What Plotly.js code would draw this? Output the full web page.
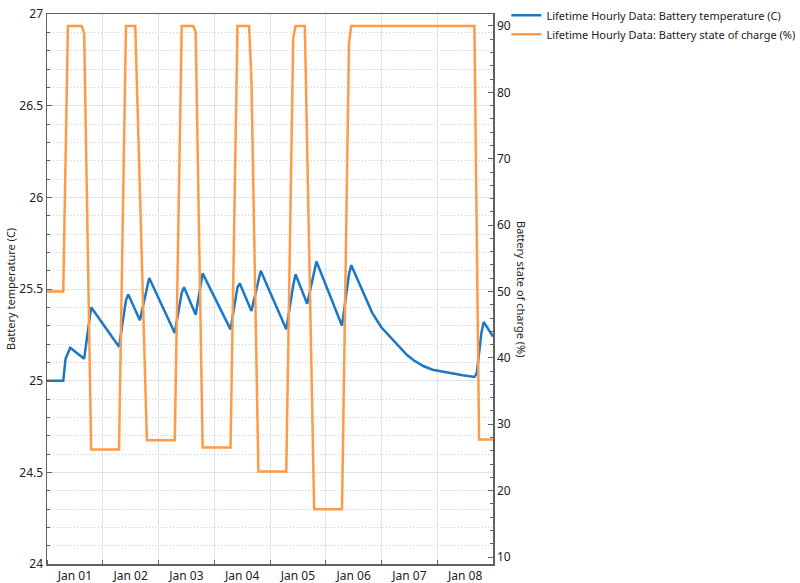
<!DOCTYPE html>
<html>
<head>
<meta charset="utf-8">
<script src="https://cdn.plot.ly/plotly-3.0.1.min.js"></script>
<style>
  html, body { margin: 0; padding: 0; background: #fff; }
  #chart { width: 800px; height: 583px; }
</style>
</head>
<body>
<div id="chart"></div>
<script>
// hours since Jan 01 00:00
const socHours = [0, 7, 9, 15, 16, 19, 31, 34, 38, 43, 55, 58, 63, 64, 67, 79, 82, 87, 88, 91,
                  103, 106, 107, 111, 115, 127, 130, 131, 184, 186, 192];
const socValues = [50, 50, 90, 90, 88.9, 26.2, 26.2, 90, 90, 27.6, 27.6, 90, 90, 89.1, 26.5, 26.5, 90, 90, 82, 22.9,
                   22.9, 88.2, 90, 90, 17.2, 17.2, 87.4, 90, 90, 27.7, 27.7];

const tempHours = [0, 7, 8, 10, 16, 17, 19, 31, 34, 35, 40, 44, 55, 58, 59, 64, 67, 79, 82, 83, 88, 92,
                   103, 106, 107, 112, 116, 127, 130, 131, 133, 137, 140, 144, 148, 151, 155, 158, 162,
                   166, 170, 174, 179, 184, 185, 187, 188, 192];
const tempValues = [25.0, 25.0, 25.12, 25.18, 25.12, 25.22, 25.40, 25.185, 25.44, 25.47, 25.33, 25.56, 25.26, 25.48, 25.51,
                    25.36, 25.585, 25.28, 25.51, 25.53, 25.38, 25.60, 25.28, 25.52, 25.58, 25.42, 25.65, 25.30,
                    25.58, 25.63, 25.57, 25.46, 25.37, 25.29, 25.235, 25.19, 25.14, 25.11, 25.08, 25.06, 25.05,
                    25.04, 25.03, 25.02, 25.04, 25.26, 25.32, 25.24];

const tempName = 'Lifetime Hourly Data: Battery temperature (C)';
const socName = 'Lifetime Hourly Data: Battery state of charge (%)';
const leftTitle = 'Battery temperature (C)';
const rightTitle = 'Battery state of charge (%)';

function pad(n){ return (n < 10 ? '0' : '') + n; }
function hourToDate(h){
    let day = Math.floor(h / 24);
    let hr = h % 24;
    return '2023-01-' + pad(day + 1) + ' ' + pad(hr) + ':00';
}

const font = "'Segoe UI', 'Noto Sans', sans-serif";

let traces = [
    {
        x: tempHours.map(hourToDate), y: tempValues, name: tempName,
        type: 'scatter', mode: 'lines',
        line: {color: '#1a78c8', width: 2.5}
    },
    {
        x: socHours.map(hourToDate), y: socValues, name: socName, yaxis: 'y2',
        type: 'scatter', mode: 'lines',
        line: {color: '#ff9b47', width: 2.5}
    }
];

let layout = {
    width: 800, height: 583,
    margin: {l: 47, r: 307, t: 14, b: 19, autoexpand: false},
    paper_bgcolor: '#fff', plot_bgcolor: '#fff',
    font: {family: font, size: 12, color: '#222'},
    showlegend: true,
    legend: {
        x: 1.03, xanchor: 'left', y: 1.024, yanchor: 'top',
        font: {size: 11, color: '#222'}, itemwidth: 30, tracegroupgap: 0,
        bgcolor: 'rgba(0,0,0,0)'
    },
    xaxis: {
        type: 'date',
        range: [hourToDate(0), '2023-01-09 00:00'],
        dtick: 86400000, tick0: '2023-01-01',
        tickformat: '%b %d', ticklabelmode: 'period',
        showgrid: true, gridcolor: '#e2e2e2', gridwidth: 1,
        showline: true, linecolor: '#606060', linewidth: 1.5, mirror: true,
        ticks: 'inside', ticklen: 4, tickcolor: '#606060',
        zeroline: false, fixedrange: true
    },
    yaxis: {
        range: [24, 27], dtick: 0.5, tick0: 24,
        showgrid: true, gridcolor: '#e2e2e2', gridwidth: 1,
        showline: true, linecolor: '#606060', linewidth: 1.5,
        ticks: 'inside', ticklen: 5, tickcolor: '#606060',
        minor: {dtick: 0.1, showgrid: true, gridcolor: '#cfcfcf', griddash: '1px,2px', ticks: 'inside', ticklen: 3, tickcolor: '#606060'},
        zeroline: false, fixedrange: true
    },
    yaxis2: {
        overlaying: 'y', side: 'right',
        range: [8.95, 91.8], dtick: 10, tick0: 0,
        showgrid: false,
        showline: true, linecolor: '#606060', linewidth: 1.5,
        ticks: 'inside', ticklen: 5, tickcolor: '#606060',
        minor: {dtick: 2, ticks: 'inside', ticklen: 3, tickcolor: '#606060', showgrid: false},
        zeroline: false, fixedrange: true
    },
    annotations: [
        {text: leftTitle, xref: 'paper', yref: 'paper', x: -0.083, y: 0.5,
         xanchor: 'center', yanchor: 'middle', textangle: -90, showarrow: false,
         font: {size: 11, color: '#222'}},
        {text: rightTitle, xref: 'paper', yref: 'paper', x: 1.065, y: 0.5,
         xanchor: 'center', yanchor: 'middle', textangle: 90, showarrow: false,
         font: {size: 11, color: '#222'}}
    ]
};

Plotly.newPlot('chart', traces, layout, {displayModeBar: false, staticPlot: true});
</script>
</body>
</html>
